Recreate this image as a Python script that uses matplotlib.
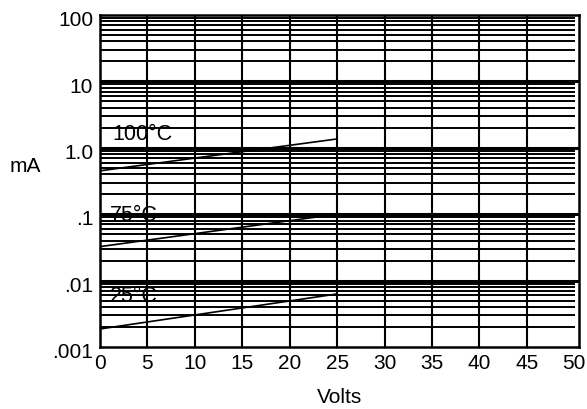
import numpy as np
from matplotlib import pyplot as plt
import matplotlib.transforms as tx

plt.rcParams['font.family'] = ['Liberation Sans', 'DejaVu Sans']

# curve end points (Volts, mA)
volts = [0, 25]
ma_100c = [0.45, 1.36]
ma_75c = [0.0325, 0.1]
ma_25c = [0.00187, 0.0063]

curve_labels = ['100°C', '75°C', '25°C']
label_pos = [(1.35, 1.67), (1.05, 0.1), (1.05, 0.0059)]

x_ticks = list(range(0, 51, 5))
y_ticks = [0.001, 0.01, 0.1, 1.0, 10, 100]
y_tick_labels = ['.001', '.01', '.1', '1.0', '10', '100']

fs = 15

fig = plt.figure(figsize=(5.87, 4.10), dpi=100)
ax = fig.add_axes([0.1704, 0.1512, 0.816, 0.8098])
ax.set_yscale('log')
ax.set_xlim(0, 50.5)
ax.set_ylim(0.001, 100)

# grid drawn by hand: minor lines stop short of right edge
minor = [m * 10.0**d for d in range(-3, 2) for m in range(2, 10)]
ax.hlines(minor, 0, 50.1, color='k', lw=1.4, zorder=1)
ax.hlines(y_ticks[1:-1], 0, 50.5, color='k', lw=2.2, zorder=1)
ax.vlines(x_ticks[1:-1], 0.001, 100, color='k', lw=1.5, zorder=1)

for ys in (ma_100c, ma_75c, ma_25c):
    ax.plot(volts, ys, color='k', lw=1.2, zorder=2)

for txt, (x, y) in zip(curve_labels, label_pos):
    ax.text(x, y, txt, fontsize=fs + 0.5, va='center', ha='left', zorder=3)

ax.set_xticks(x_ticks)
ax.set_xticklabels([str(v) for v in x_ticks], fontsize=fs)
ax.set_yticks(y_ticks)
ax.set_yticklabels(y_tick_labels, fontsize=fs)
ax.yaxis.set_minor_locator(plt.NullLocator())
ax.tick_params(length=0)
ax.tick_params(axis='y', pad=5)
ax.tick_params(axis='x', pad=4)
for s in ax.spines.values():
    s.set_linewidth(1.8)

# y labels sit a little low in the original
shift = tx.ScaledTranslation(0, -2 / 72, fig.dpi_scale_trans)
for lbl in ax.get_yticklabels():
    lbl.set_transform(lbl.get_transform() + shift)

fig.text(10 / 587, 1 - 167 / 410, 'mA', fontsize=fs, ha='left', va='center')
ax.set_xlabel('Volts', fontsize=fs, labelpad=11)

fig.savefig('out.png', dpi=100)
